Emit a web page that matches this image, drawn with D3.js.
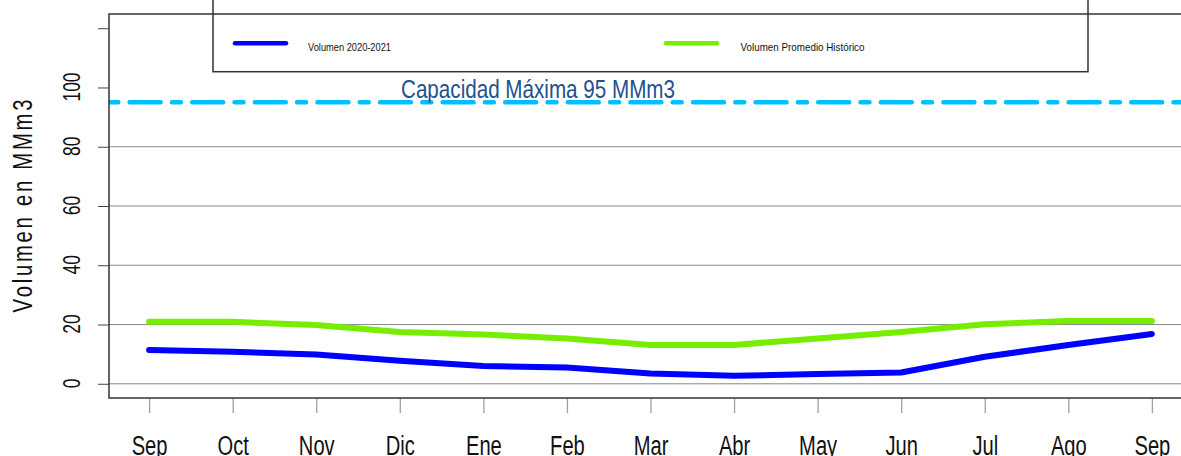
<!DOCTYPE html>
<html>
<head>
<meta charset="utf-8">
<script src="https://cdn.jsdelivr.net/npm/d3@7"></script>
<style>
  html, body { margin: 0; padding: 0; background: #fff; }
  svg { display: block; font-family: "Liberation Sans", Arial, sans-serif; }
</style>
</head>
<body>
<div id="chart"></div>
<script>
// Volumen del embalse por mes (MMm3)
const months = ['Sep', 'Oct', 'Nov', 'Dic', 'Ene', 'Feb', 'Mar', 'Abr', 'May', 'Jun', 'Jul', 'Ago', 'Sep'];
const vol2021 = [11.4, 10.8, 9.9, 7.8, 6.0, 5.5, 3.5, 2.7, 3.3, 3.8, 9.1, 13.1, 16.8];
const volHist = [20.9, 20.9, 19.8, 17.5, 16.6, 15.3, 13.1, 13.1, 15.3, 17.5, 20.1, 21.2, 21.2];
const yTicks = [0, 20, 40, 60, 80, 100, 120];
const yTickLabels = ['0', '20', '40', '60', '80', '100', ''];
const gridValues = [0, 20, 40, 60, 80];
const capacity = 95;

const width = 1181, height = 456;
const plot = { left: 109, right: 1192, top: 14, bottom: 398 };

const svg = d3.select('#chart').append('svg')
  .attr('width', width)
  .attr('height', height);

// R-style 4% padding on both axes
const x = d3.scaleLinear().domain([-0.48, 12.48]).range([plot.left, plot.right]);
const y = d3.scaleLinear().domain([-4.8, 124.8]).range([plot.bottom, plot.top]);

svg.append('clipPath').attr('id', 'clip')
  .append('rect')
  .attr('x', plot.left).attr('y', plot.top)
  .attr('width', plot.right - plot.left).attr('height', plot.bottom - plot.top);

// Gridlines
svg.append('g')
  .selectAll('line')
  .data(gridValues)
  .join('line')
  .attr('x1', plot.left).attr('x2', plot.right)
  .attr('y1', d => y(d)).attr('y2', d => y(d))
  .attr('stroke', '#8a8a8a')
  .attr('stroke-width', 1);

// Y axis (labels are narrow / tall like the original device font)
const yAxis = svg.append('g')
  .attr('transform', `translate(${plot.left},0)`)
  .call(d3.axisLeft(y).tickValues(yTicks).tickSize(11).tickFormat((d, i) => yTickLabels[i]));
yAxis.select('.domain').remove();
yAxis.selectAll('.tick line').attr('stroke', '#444').attr('stroke-width', 1);
yAxis.selectAll('.tick text')
  .attr('x', 0).attr('y', 0).attr('dy', null)
  .attr('transform', 'translate(-29,-1) rotate(-90) scale(0.76,1)')
  .attr('text-anchor', 'middle')
  .attr('font-size', 23)
  .attr('fill', '#111')
  .attr('font-family', '"Liberation Sans", Arial, sans-serif');

// X axis
const xAxis = svg.append('g')
  .attr('transform', `translate(0,${plot.bottom})`)
  .call(d3.axisBottom(x).tickValues(d3.range(months.length)).tickSize(15).tickFormat(i => months[i]));
xAxis.select('.domain').remove();
xAxis.selectAll('.tick line').attr('stroke', '#a0a0a0').attr('stroke-width', 1.3);
xAxis.selectAll('.tick text')
  .attr('y', 0).attr('dy', null)
  .attr('transform', 'translate(0,57) scale(0.72,1)')
  .attr('font-size', 28)
  .attr('fill', '#111')
  .attr('font-family', '"Liberation Sans", Arial, sans-serif');

// Y axis title
svg.append('text')
  .attr('transform', `translate(31.5,${(plot.top + plot.bottom) / 2}) rotate(-90) scale(0.75,1)`)
  .attr('text-anchor', 'middle')
  .attr('font-size', 27)
  .attr('fill', '#111')
  .attr('textLength', 284)
  .attr('lengthAdjust', 'spacing')
  .text('Volumen en MMm3');

// Capacity line
svg.append('line')
  .attr('clip-path', 'url(#clip)')
  .attr('x1', x(-0.48)).attr('x2', x(12.48))
  .attr('y1', y(capacity)).attr('y2', y(capacity))
  .attr('stroke', '#00BFFF')
  .attr('stroke-width', 4.5)
  .attr('stroke-linecap', 'round')
  .attr('stroke-dasharray', '31 11.3 9 11.3')
  .attr('stroke-dashoffset', 42);

svg.append('text')
  .attr('x', 538).attr('y', 98)
  .attr('text-anchor', 'middle')
  .attr('font-size', 25)
  .attr('fill', '#23508e')
  .attr('textLength', 274)
  .attr('lengthAdjust', 'spacingAndGlyphs')
  .text(`Capacidad Máxima ${capacity} MMm3`);

// Series lines
const line = d3.line().x((d, i) => x(i)).y(d => y(d));
const series = [
  { name: 'Volumen Promedio Histórico', values: volHist, color: '#76EE00' },
  { name: 'Volumen 2020-2021', values: vol2021, color: '#0000FF' }
];
svg.append('g')
  .attr('clip-path', 'url(#clip)')
  .selectAll('path')
  .data(series)
  .join('path')
  .attr('d', d => line(d.values))
  .attr('fill', 'none')
  .attr('stroke', d => d.color)
  .attr('stroke-width', 6)
  .attr('stroke-linecap', 'round')
  .attr('stroke-linejoin', 'round');

// Plot box (left, top, bottom; right edge is outside the window)
svg.append('path')
  .attr('d', `M${plot.right},${plot.top}H${plot.left}V${plot.bottom}H${plot.right}`)
  .attr('fill', 'none')
  .attr('stroke', '#333')
  .attr('stroke-width', 1.5);

// Legend
const legend = svg.append('g');
legend.append('rect')
  .attr('x', 213).attr('y', -20)
  .attr('width', 875).attr('height', 91.7)
  .attr('fill', 'none')
  .attr('stroke', '#333')
  .attr('stroke-width', 1.5);

const legendItems = [
  { label: 'Volumen 2020-2021', color: '#0000FF', x0: 235, tx: 308, tl: 83 },
  { label: 'Volumen Promedio Histórico', color: '#76EE00', x0: 666, tx: 740.5, tl: 124 }
];
const li = legend.selectAll('g.item')
  .data(legendItems)
  .join('g')
  .attr('class', 'item');
li.append('line')
  .attr('x1', d => d.x0).attr('x2', d => d.x0 + 51)
  .attr('y1', 43.3).attr('y2', 43.3)
  .attr('stroke', d => d.color)
  .attr('stroke-width', 4.5)
  .attr('stroke-linecap', 'round');
li.append('text')
  .attr('x', d => d.tx).attr('y', 50.5)
  .attr('font-size', 11)
  .attr('fill', '#111')
  .attr('textLength', d => d.tl)
  .attr('lengthAdjust', 'spacingAndGlyphs')
  .text(d => d.label);
</script>
</body>
</html>
